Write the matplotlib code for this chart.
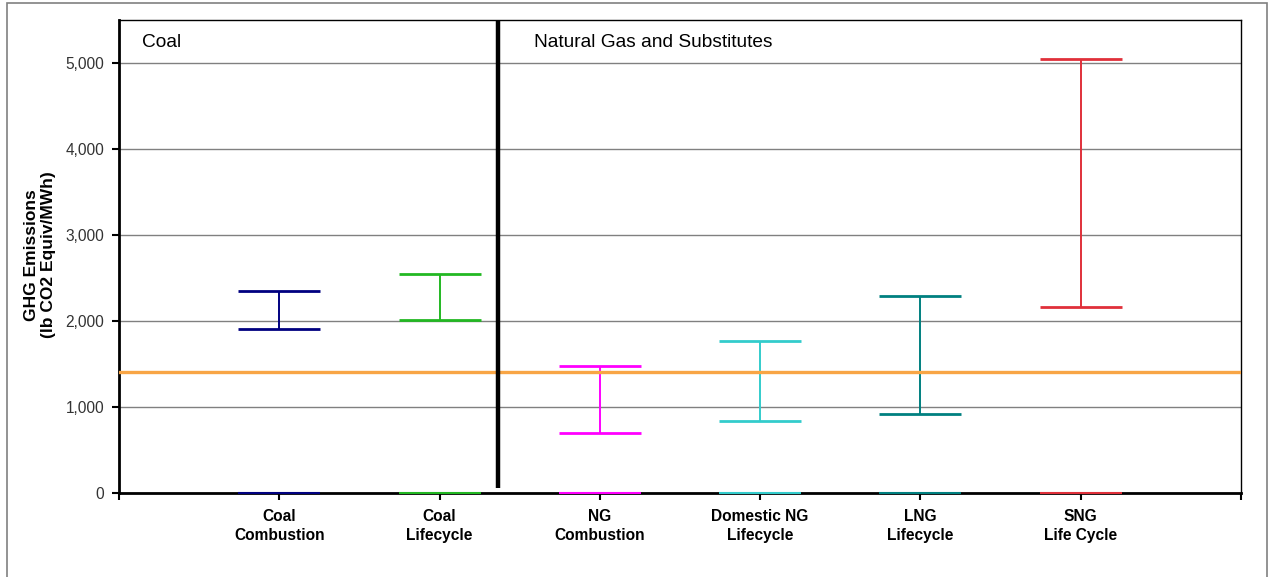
import matplotlib
matplotlib.use("Agg")
import matplotlib.pyplot as plt
from matplotlib.patches import Rectangle

plt.rcParams['font.family'] = ['Liberation Sans', 'DejaVu Sans']

# ---- data ----
categories = ["Coal\nCombustion", "Coal\nLifecycle", "NG\nCombustion",
              "Domestic NG\nLifecycle", "LNG\nLifecycle", "SNG\nLife Cycle"]
low_values = [1910, 2010, 700, 830, 910, 2160]
high_values = [2350, 2540, 1470, 1770, 2290, 5050]
zero_values = [0, 0, 0, 0, 0, 0]
series_colors = ["#000080", "#22B822", "#FF00FF", "#33CCCC", "#008080", "#E0303A"]
reference_level = 1400
group_labels = ["Coal", "Natural Gas and Substitutes"]
y_ticks = [0, 1000, 2000, 3000, 4000, 5000]

W, H = 1272, 577
fig = plt.figure(figsize=(W / 100, H / 100), dpi=100)
ax = fig.add_axes([119 / W, 1 - 492.7 / H, 1122 / W, (492.7 - 20) / H])

# outer border
fig.patches.append(Rectangle((7 / W, -0.05), 1260 / W, 1.05 - 3 / H,
                             transform=fig.transFigure, fill=False,
                             edgecolor="#808080", linewidth=1.2))

positions = list(range(1, len(categories) + 1))
half = 0.256

# gridlines
ax.set_axisbelow(True)
ax.yaxis.grid(True, color="#808080", linewidth=1.0)

# stems
ax.vlines(positions, low_values, high_values, colors=series_colors, linewidth=1.4, zorder=3)
# caps
ax.hlines(high_values, [p - half for p in positions], [p + half for p in positions],
          colors=series_colors, linewidth=2.0, zorder=3)
ax.hlines(low_values, [p - half for p in positions], [p + half for p in positions],
          colors=series_colors, linewidth=2.0, zorder=3)
# zero markers
ax.hlines(zero_values, [p - half for p in positions], [p + half for p in positions],
          colors=series_colors, linewidth=1.5, zorder=5, clip_on=False)

# reference line
ax.axhline(reference_level, color="#F8A545", linewidth=2.4, zorder=4)

# divider
div_x = 2.362
ax.plot([div_x, div_x], [55, 5500], color="black", linewidth=3.2,
        zorder=6, solid_capstyle="butt")

# group labels
ax.text(0.1435, 5244, group_labels[0], fontsize=13.8, va="center", ha="left")
ax.text(2.589, 5244, group_labels[1], fontsize=13.8, va="center", ha="left")

ax.set_xlim(0, 7)
ax.set_ylim(0, 5500)
ax.set_xticks(range(0, 8))
ax.set_xticklabels([""] + categories + [""], fontsize=11.2, fontweight="bold",
                   linespacing=1.4)
ax.set_yticks(y_ticks)
ax.set_yticklabels([f"{v:,}" for v in y_ticks], fontsize=11.2, color="#333333")
ax.tick_params(axis="x", direction="out", length=5, width=1.5, pad=6.5)
ax.tick_params(axis="y", direction="out", length=5, width=1.5, pad=5.5)

for side in ["left", "bottom"]:
    ax.spines[side].set_linewidth(2.0)
    ax.spines[side].set_color("black")
for side in ["top", "right"]:
    ax.spines[side].set_linewidth(1.0)
    ax.spines[side].set_color("black")

ax.set_ylabel("GHG Emissions\n(lb CO2 Equiv/MWh)", fontsize=12.5, fontweight="bold",
              linespacing=1.2)
ax.yaxis.set_label_coords(-0.056, 0.503)

fig.savefig("out.png", dpi=100)
